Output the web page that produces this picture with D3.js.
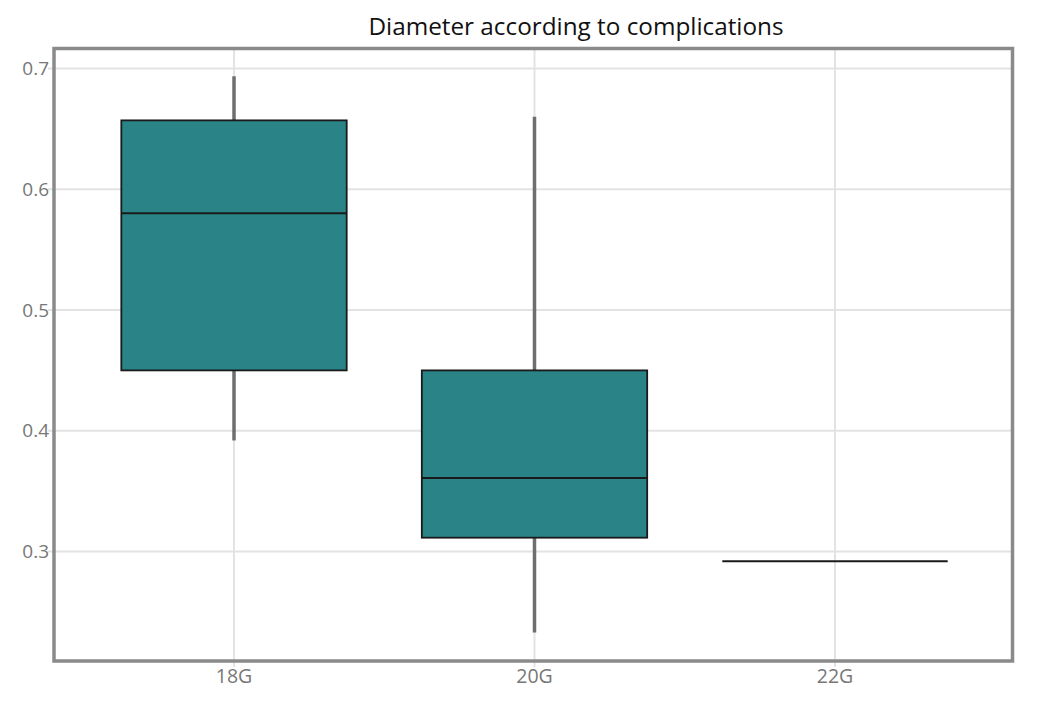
<!DOCTYPE html>
<html><head><meta charset="utf-8">
<script src="https://cdn.jsdelivr.net/npm/d3@7"></script>
<style>body{margin:0;background:#fff;}svg{display:block;}</style>
</head><body>
<svg id="c" width="1043" height="709"></svg>
<script>
const categories = ["18G", "20G", "22G"];
const whiskerLow = [0.392, 0.233, 0.292];
const q1 = [0.450, 0.3115, 0.292];
const median = [0.580, 0.361, 0.292];
const q3 = [0.657, 0.450, 0.292];
const whiskerHigh = [0.6935, 0.660, 0.292];
const yTicks = [0.3, 0.4, 0.5, 0.6, 0.7];
const title = "Diameter according to complications";

const svg = d3.select("#c");
const L = 54, R = 1012.5, T = 48.5, B = 661;
const x = d3.scaleBand().domain(categories).range([46.2, 1022.8]).padding(0.25);
const y = d3.scaleLinear().domain([0.2094, 0.7165]).range([B, T]);
const font = "'Open Sans', sans-serif";

// grid
const g = svg.append("g");
g.selectAll(".hg").data(yTicks).join("line")
  .attr("x1", L - 6).attr("x2", R).attr("y1", d => y(d)).attr("y2", d => y(d))
  .attr("stroke", "#e3e3e3").attr("stroke-width", 2);
g.selectAll(".vg").data(categories).join("line")
  .attr("x1", d => x(d) + x.bandwidth() / 2).attr("x2", d => x(d) + x.bandwidth() / 2)
  .attr("y1", T).attr("y2", B + 6)
  .attr("stroke", "#e3e3e3").attr("stroke-width", 2);

const data = categories.map((c, i) => ({c, lo: whiskerLow[i], q1: q1[i], med: median[i], q3: q3[i], hi: whiskerHigh[i]}));
const cx = d => x(d.c) + x.bandwidth() / 2;

// whiskers
svg.selectAll(".wh").data(data.filter(d => d.hi > d.q3)).join("line")
  .attr("x1", cx).attr("x2", cx).attr("y1", d => y(d.hi)).attr("y2", d => y(d.q3))
  .attr("stroke", "#6e6e6e").attr("stroke-width", 3.5);
svg.selectAll(".wl").data(data.filter(d => d.lo < d.q1)).join("line")
  .attr("x1", cx).attr("x2", cx).attr("y1", d => y(d.q1)).attr("y2", d => y(d.lo))
  .attr("stroke", "#6e6e6e").attr("stroke-width", 3.5);

// boxes
svg.selectAll(".box").data(data).join("rect")
  .attr("x", d => x(d.c)).attr("width", x.bandwidth())
  .attr("y", d => y(d.q3)).attr("height", d => y(d.q1) - y(d.q3))
  .attr("fill", "#2a8487").attr("stroke", "#1a1a1a").attr("stroke-width", 1.8);
svg.selectAll(".med").data(data).join("line")
  .attr("x1", d => x(d.c)).attr("x2", d => x(d.c) + x.bandwidth())
  .attr("y1", d => y(d.med)).attr("y2", d => y(d.med))
  .attr("stroke", "#1a1a1a").attr("stroke-width", 2);

// border
svg.append("rect").attr("x", L).attr("y", T).attr("width", R - L).attr("height", B - T)
  .attr("fill", "none").attr("stroke", "#8a8a8a").attr("stroke-width", 3.5);

// axes labels
const yAxis = svg.append("g").attr("transform", `translate(${L - 5},0)`)
  .call(d3.axisLeft(y).tickValues(yTicks).tickSize(0).tickPadding(0).tickFormat(d3.format(".1f")));
yAxis.select(".domain").remove();
yAxis.selectAll("text").attr("fill", "#777").style("font-family", font).style("font-size", "19px");

const xAxis = svg.append("g").attr("transform", `translate(0,${B + 6})`)
  .call(d3.axisBottom(x).tickSize(0).tickPadding(2));
xAxis.select(".domain").remove();
xAxis.selectAll("text").attr("fill", "#777").style("font-family", font).style("font-size", "19.5px");

svg.append("text").attr("x", 576).attr("y", 35).attr("text-anchor", "middle")
  .style("font-family", font).style("font-size", "24.3px").attr("fill", "#111").text(title);
</script>
</body></html>
